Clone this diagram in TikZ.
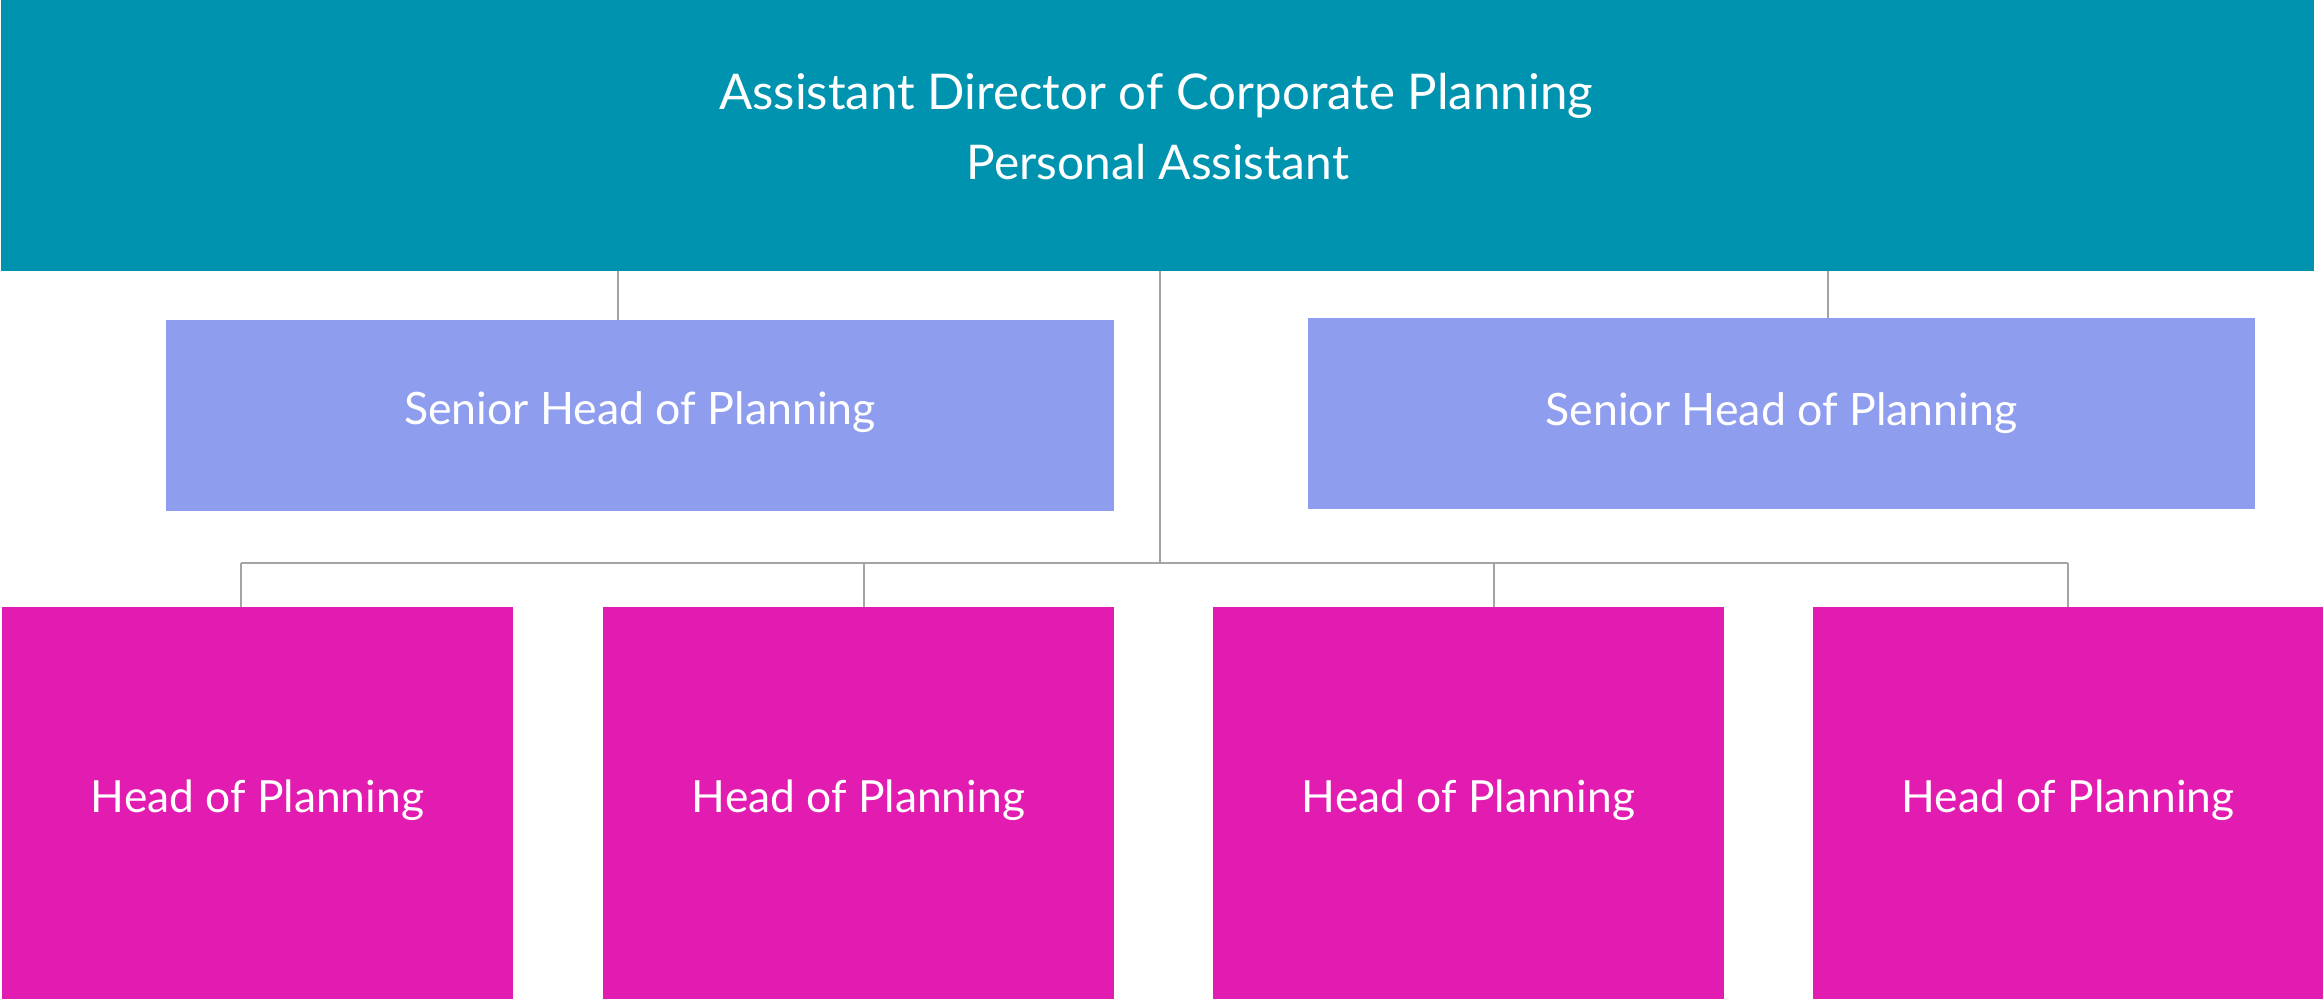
\documentclass[tikz,border=0pt]{standalone}
\usepackage{fontspec}
\setmainfont{Lato}
\definecolor{topc}{HTML}{0093B0}
\definecolor{senc}{HTML}{8F9DEF}
\definecolor{headc}{HTML}{E31CB1}
\definecolor{linec}{HTML}{A4A4A4}
\tikzset{
  boxbase/.style={rectangle, inner sep=0pt, outer sep=0pt, text=white},
  topbox/.style={boxbase, fill=topc, minimum width=23.11cm, minimum height=2.71cm},
  senbox/.style={boxbase, fill=senc, minimum width=9.48cm, minimum height=1.91cm, font=\fontsize{12.7pt}{15pt}\selectfont},
  headbox/.style={boxbase, fill=headc, minimum width=5.11cm, minimum height=3.92cm, font=\fontsize{12.6pt}{15pt}\selectfont, text depth=4pt},
  toptext/.style={text=white, inner sep=0pt, anchor=base},
  conn/.style={draw=linec, line width=0.6pt}
}
\begin{document}
\begin{tikzpicture}[x=0.01cm, y=-0.01cm]
\useasboundingbox (0,0) rectangle (2323,999);
% boxes
\node[topbox] (top) at (1157.5,135.5) {};
\node[toptext, font=\fontsize{14pt}{16pt}\selectfont] (title) at (1156,109) {Assistant Director of Corporate Planning};
\node[toptext, font=\fontsize{13.6pt}{15pt}\selectfont] (sub) at (1158,179) {Personal Assistant};
\node[senbox, text depth=4.4pt] (sl) at (640,415.5) {Senior Head of Planning};
\node[senbox, text depth=2.6pt, minimum width=9.47cm] (sr) at (1781.5,413.5) {Senior Head of Planning};
\node[headbox] (h1) at (257.5,803) {Head of Planning};
\node[headbox] (h2) at (858.5,803) {Head of Planning};
\node[headbox] (h3) at (1468.5,803) {Head of Planning};
\node[headbox, minimum width=5.10cm] (h4) at (2068,803) {Head of Planning};
% connector positions
\coordinate (xl) at (618,0);
\coordinate (xr) at (1828,0);
\coordinate (xm) at (1160,0);
\coordinate (bus) at (0,563);
\coordinate (x1) at (241,0);
\coordinate (x2) at (864,0);
\coordinate (x3) at (1494,0);
\coordinate (x4) at (2068,0);
% connectors
\draw[conn] (top.south -| xl) -- (sl.north -| xl);
\draw[conn] (top.south -| xr) -- (sr.north -| xr);
\draw[conn] (top.south -| xm) -- (bus -| xm);
\draw[conn] (bus -| x1) -- (bus -| x4);
\draw[conn] (bus -| x1) -- (h1.north -| x1);
\draw[conn] (bus -| x2) -- (h2.north -| x2);
\draw[conn] (bus -| x3) -- (h3.north -| x3);
\draw[conn] (bus -| x4) -- (h4.north -| x4);
\end{tikzpicture}
\end{document}
